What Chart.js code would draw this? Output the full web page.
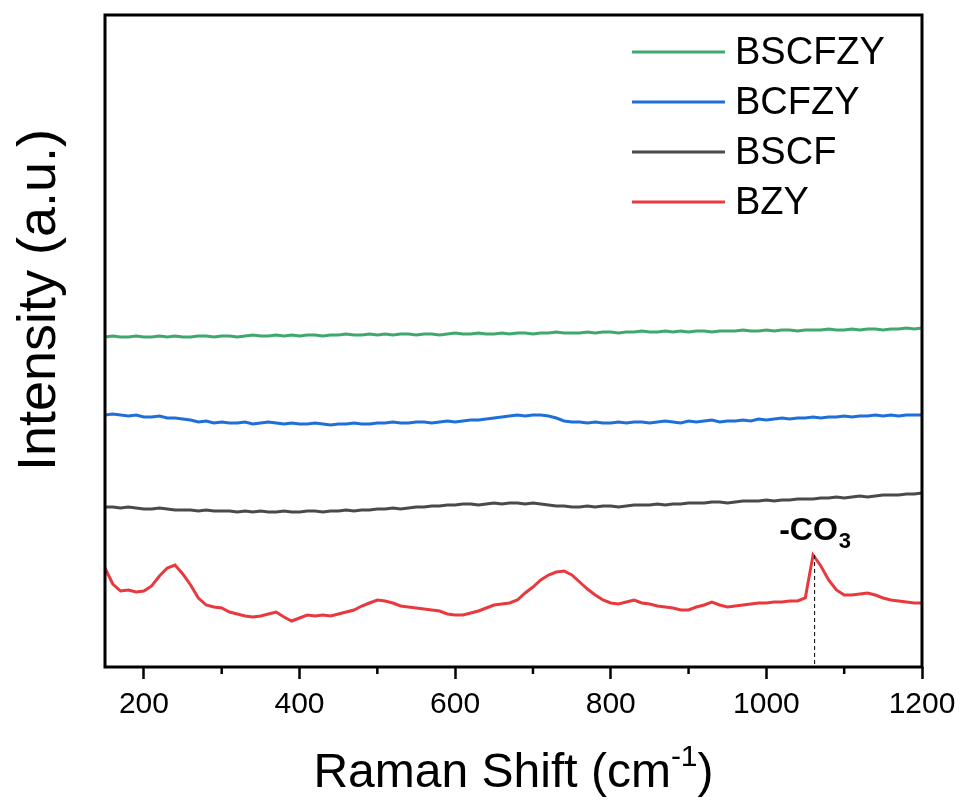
<!DOCTYPE html>
<html>
<head>
<meta charset="utf-8">
<script src="https://cdn.jsdelivr.net/npm/chart.js@4.4.1/dist/chart.umd.min.js"></script>
<style>
  html, body { margin: 0; padding: 0; background: #fff; }
  #wrap { width: 968px; height: 804px; position: relative; }
</style>
</head>
<body>
<div id="wrap"><canvas id="ramanChart"></canvas></div>
<script>
// --- DATA (Raman shift step 10 cm-1) ---
const shift = [];
for (let w = 150; w <= 1200; w += 10) shift.push(w);

const bscfzy = [
  330,331,330,330,331,330,330,331,330,331,330,
  330,331,331,330,331,331,330,331,332,331,
  331,332,331,332,331,332,332,331,332,332,
  333,332,332,333,332,333,332,333,333,332,
  333,333,332,333,334,333,333,334,333,333,
  334,333,334,334,333,334,334,335,334,334,
  334,335,334,335,335,334,335,335,336,335,
  335,336,335,336,335,336,336,335,336,336,
  336,337,336,336,337,336,337,337,336,337,
  337,337,338,337,337,338,337,338,338,337,
  338,338,339,338,339
];

const bcfzy = [
  252,253,252,251,252,250,250,251,249,249,248,
  247,245,246,244,245,244,244,245,243,244,
  245,244,243,244,243,243,244,243,242,243,
  243,244,243,243,244,244,245,244,244,245,
  245,244,245,246,245,246,247,247,248,249,
  250,251,252,251,252,252,251,249,246,245,
  245,244,245,244,244,245,244,245,245,244,
  245,246,245,244,246,245,246,247,245,246,
  246,247,246,248,247,248,249,248,249,249,
  250,249,250,250,251,250,251,251,252,251,
  252,251,252,252,252
];

const bscf = [
  160,160,159,160,159,158,158,159,158,157,157,
  157,156,157,156,156,156,155,156,155,156,
  155,155,156,155,155,156,156,155,156,156,
  157,156,157,157,158,158,159,158,159,160,
  160,161,161,162,162,163,163,162,163,164,
  163,164,164,163,164,163,162,161,161,160,
  160,161,160,161,161,160,161,162,162,162,
  163,162,163,163,164,164,164,165,165,164,
  165,166,166,166,167,166,167,167,168,168,
  168,169,169,170,169,170,171,170,171,172,
  172,172,173,173,174
];

const bzy = [
  99,83,76,77,75,76,81,91,99,102,93,
  82,69,62,60,59,55,53,51,50,51,
  53,55,50,46,49,52,51,52,51,53,
  55,57,61,64,67,66,64,61,60,59,
  58,57,56,53,52,52,54,56,59,62,
  63,64,67,74,80,87,92,95,96,92,
  85,78,72,67,64,63,65,67,64,63,
  61,60,59,57,57,60,62,65,62,60,
  61,62,63,64,64,65,65,66,66,69,
  112,101,87,77,72,72,73,74,72,69,
  67,66,65,64,64
];

const seriesNames = ['BSCFZY', 'BCFZY', 'BSCF', 'BZY'];
const seriesColors = ['#3ea86d', '#1f6fdb', '#4a4a4a', '#e8393e'];
const xTicks = [200, 400, 600, 800, 1000, 1200];
const xMinorTicks = [300, 500, 700, 900, 1100];
const co3Shift = 1062;
const co3Peak = 112;

const FONT = "'Liberation Sans', Arial, sans-serif";

function toPoints(vals) {
  return vals.map((v, i) => ({ x: shift[i], y: v }));
}

// frame, minor ticks, titles, legend and the -CO3 mark
const decorPlugin = {
  id: 'decor',
  afterDraw(chart) {
    const ctx = chart.ctx;
    const a = chart.chartArea;
    const xs = chart.scales.x;
    const ys = chart.scales.y;
    ctx.save();

    // box
    ctx.strokeStyle = '#000';
    ctx.lineWidth = 3;
    ctx.strokeRect(a.left, a.top, a.right - a.left, a.bottom - a.top);

    // minor ticks
    ctx.lineWidth = 2.5;
    xMinorTicks.forEach(v => {
      const px = xs.getPixelForValue(v);
      ctx.beginPath();
      ctx.moveTo(px, a.bottom);
      ctx.lineTo(px, a.bottom + 7);
      ctx.stroke();
    });

    // dashed line for carbonate
    const cx = xs.getPixelForValue(co3Shift);
    ctx.lineWidth = 1;
    ctx.setLineDash([4, 3]);
    ctx.beginPath();
    ctx.moveTo(cx, ys.getPixelForValue(co3Peak));
    ctx.lineTo(cx, a.bottom);
    ctx.stroke();
    ctx.setLineDash([]);

    // -CO3 label
    ctx.fillStyle = '#000';
    ctx.textBaseline = 'alphabetic';
    ctx.font = 'bold 32px ' + FONT;
    const main = '-CO';
    const mw = ctx.measureText(main).width;
    ctx.font = 'bold 22px ' + FONT;
    const sw = ctx.measureText('3').width;
    let lx = cx - (mw + sw) / 2;
    ctx.font = 'bold 32px ' + FONT;
    ctx.textAlign = 'left';
    ctx.fillText(main, lx, 540);
    ctx.font = 'bold 22px ' + FONT;
    ctx.fillText('3', lx + mw + 1, 548);

    // x title with superscript
    ctx.font = '48px ' + FONT;
    const t1 = 'Raman Shift (cm';
    const t2 = ')';
    ctx.font = '30px ' + FONT;
    const supW = ctx.measureText('-1').width;
    ctx.font = '48px ' + FONT;
    const w1 = ctx.measureText(t1).width;
    const w2 = ctx.measureText(t2).width;
    let tx = (a.left + a.right) / 2 - (w1 + supW + w2) / 2;
    ctx.fillText(t1, tx, 787);
    ctx.font = '30px ' + FONT;
    ctx.fillText('-1', tx + w1, 766);
    ctx.font = '48px ' + FONT;
    ctx.fillText(t2, tx + w1 + supW, 787);

    // y title
    ctx.save();
    ctx.translate(55, 300);
    ctx.rotate(-Math.PI / 2);
    ctx.textAlign = 'center';
    ctx.font = '54px ' + FONT;
    ctx.fillText('Intensity (a.u.)', 0, 0);
    ctx.restore();

    // legend
    ctx.font = '38px ' + FONT;
    ctx.textAlign = 'left';
    ctx.textBaseline = 'middle';
    chart.data.datasets.forEach((ds, i) => {
      const y = 52 + i * 50;
      ctx.strokeStyle = ds.borderColor;
      ctx.lineWidth = 3;
      ctx.beginPath();
      ctx.moveTo(632, y);
      ctx.lineTo(725, y);
      ctx.stroke();
      ctx.fillStyle = '#000';
      ctx.fillText(ds.label, 735, y + 2);
    });

    ctx.restore();
  }
};

document.addEventListener('DOMContentLoaded', function () {
  const allSeries = [bscfzy, bcfzy, bscf, bzy];
  new Chart(document.getElementById('ramanChart').getContext('2d'), {
    type: 'line',
    data: {
      datasets: allSeries.map((vals, i) => ({
        label: seriesNames[i],
        data: toPoints(vals),
        borderColor: seriesColors[i],
        borderWidth: 3,
        pointRadius: 0,
        tension: 0,
        fill: false
      }))
    },
    options: {
      responsive: true,
      maintainAspectRatio: false,
      animation: false,
      layout: { padding: { top: 15, right: 46, left: 0, bottom: 0 } },
      plugins: {
        legend: { display: false },
        tooltip: { enabled: false }
      },
      scales: {
        x: {
          type: 'linear',
          min: 150,
          max: 1200,
          afterBuildTicks: (scale) => { scale.ticks = xTicks.map(v => ({ value: v })); },
          afterFit: (scale) => { scale.height = 137; },
          ticks: {
            color: '#000',
            font: { family: FONT, size: 30 },
            padding: 8,
            maxRotation: 0,
            autoSkip: false,
            callback: (v) => String(v)
          },
          grid: {
            display: true,
            drawOnChartArea: false,
            drawTicks: true,
            tickLength: 12,
            tickWidth: 2.5,
            tickColor: '#000'
          },
          border: { display: false }
        },
        y: {
          min: 0,
          max: 652,
          afterFit: (scale) => { scale.width = 105; },
          ticks: { display: false },
          grid: { display: false },
          border: { display: false }
        }
      }
    },
    plugins: [decorPlugin]
  });
});
</script>
</body>
</html>
